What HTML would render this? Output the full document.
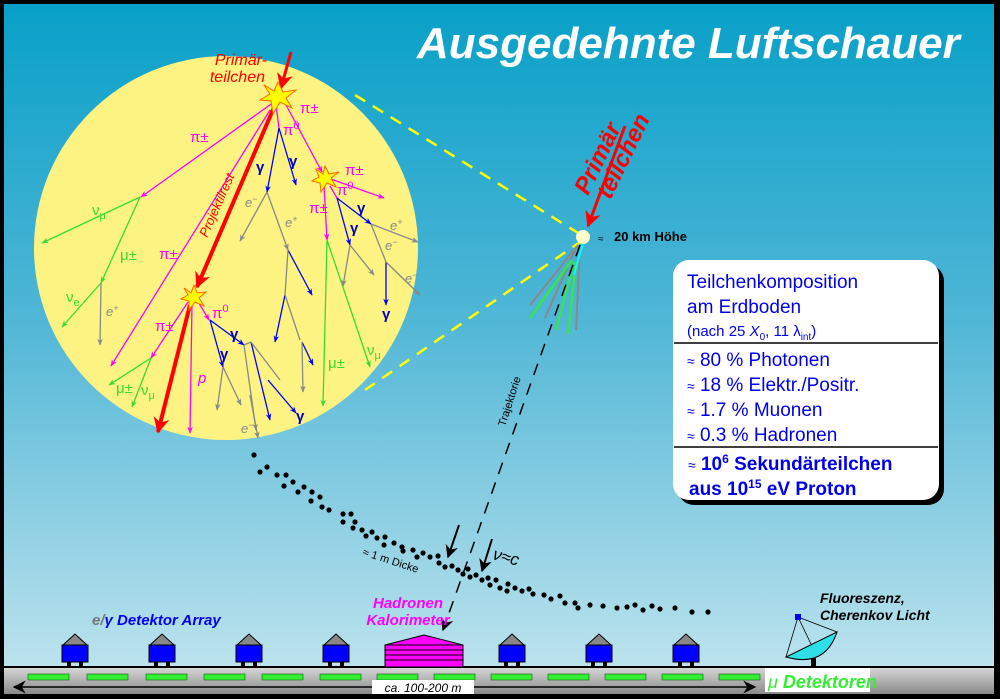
<!DOCTYPE html>
<html><head><meta charset="utf-8"><style>
html,body{margin:0;padding:0;background:#000}
svg{display:block}
text{font-family:"Liberation Sans",sans-serif}
</style></head><body>
<svg width="1000" height="699" viewBox="0 0 1000 699" xmlns="http://www.w3.org/2000/svg">
<defs>
<linearGradient id="sky" x1="0" y1="0" x2="0" y2="1">
<stop offset="0" stop-color="#08a0c8"/><stop offset="0.45" stop-color="#4fb6d6"/><stop offset="1" stop-color="#c4e6ef"/>
</linearGradient>
<linearGradient id="gnd" x1="0" y1="0" x2="0" y2="1">
<stop offset="0" stop-color="#d8d8d8"/><stop offset="1" stop-color="#8a8a8a"/>
</linearGradient>
<marker id="a" viewBox="0 0 10 10" refX="9" refY="5" markerWidth="7" markerHeight="7" orient="auto-start-reverse" markerUnits="userSpaceOnUse"><path d="M0,1 L10,5 L0,9 L3,5z" fill="context-stroke"/></marker>
<marker id="ar" viewBox="0 0 10 10" refX="9" refY="5" markerWidth="16" markerHeight="16" orient="auto" markerUnits="userSpaceOnUse"><path d="M0,0 L10,5 L0,10 L3,5z" fill="#f00"/></marker>
<marker id="ak" viewBox="0 0 10 10" refX="9" refY="5" markerWidth="13" markerHeight="13" orient="auto-start-reverse" markerUnits="userSpaceOnUse"><path d="M0,0 L10,5 L0,10 L3,5z" fill="#000"/></marker>
</defs>
<rect x="0" y="0" width="1000" height="699" fill="#000"/>
<rect x="4" y="4" width="990" height="690" fill="url(#sky)"/>
<text x="417" y="58" font-size="44" font-weight="bold" font-style="italic" fill="#fff">Ausgedehnte Luftschauer</text>

<line x1="355" y1="95" x2="583" y2="236" stroke="#ff0" stroke-width="2.5" stroke-dasharray="12,9"/>
<line x1="365" y1="390" x2="583" y2="240" stroke="#ff0" stroke-width="2.5" stroke-dasharray="12,9"/>

<circle cx="226" cy="248" r="192" fill="#fdf382"/>

<g fill="none" stroke-width="1.3">
<g stroke="#f0f">
<line x1="274" y1="102" x2="141" y2="197" marker-end="url(#a)"/>
<line x1="285" y1="103" x2="322" y2="172" marker-end="url(#a)"/>
<line x1="270" y1="110" x2="111" y2="366" marker-end="url(#a)"/>
<line x1="328" y1="178" x2="384" y2="198" marker-end="url(#a)"/>
<line x1="324" y1="185" x2="327" y2="240" marker-end="url(#a)"/>
<line x1="188" y1="302" x2="151" y2="358" marker-end="url(#a)"/>
<line x1="192" y1="303" x2="190" y2="433" marker-end="url(#a)"/>
<line x1="197" y1="300" x2="209" y2="320" marker-end="url(#a)"/>
<line x1="276" y1="105" x2="279" y2="128"/>
<line x1="330" y1="186" x2="337" y2="198"/>
</g>
<g stroke="#3d3">
<line x1="140" y1="197" x2="42" y2="243" marker-end="url(#a)"/>
<line x1="140" y1="197" x2="101" y2="283" marker-end="url(#a)"/>
<line x1="101" y1="283" x2="62" y2="327" marker-end="url(#a)"/>
<line x1="327" y1="240" x2="323" y2="406" marker-end="url(#a)"/>
<line x1="327" y1="240" x2="370" y2="367" marker-end="url(#a)"/>
<line x1="151" y1="358" x2="109" y2="385" marker-end="url(#a)"/>
<line x1="151" y1="358" x2="132" y2="407" marker-end="url(#a)"/>
</g>
<g stroke="#00f">
<line x1="279" y1="128" x2="267" y2="192" marker-end="url(#a)"/>
<line x1="279" y1="128" x2="296" y2="185" marker-end="url(#a)"/>
<line x1="337" y1="198" x2="371" y2="224" marker-end="url(#a)"/>
<line x1="337" y1="198" x2="350" y2="245" marker-end="url(#a)"/>
<line x1="288" y1="250" x2="312" y2="295" marker-end="url(#a)"/>
<line x1="285" y1="295" x2="275" y2="342" marker-end="url(#a)"/>
<line x1="302" y1="342" x2="313" y2="365" marker-end="url(#a)"/>
<line x1="386" y1="262" x2="386" y2="305" marker-end="url(#a)"/>
<line x1="210" y1="320" x2="244" y2="345" marker-end="url(#a)"/>
<line x1="210" y1="320" x2="223" y2="367" marker-end="url(#a)"/>
<line x1="251" y1="342" x2="270" y2="420" marker-end="url(#a)"/>
<line x1="268" y1="380" x2="296" y2="413" marker-end="url(#a)"/>
</g>
<g stroke="#888">
<line x1="267" y1="192" x2="240" y2="241" marker-end="url(#a)"/>
<line x1="267" y1="192" x2="288" y2="250" marker-end="url(#a)"/>
<line x1="288" y1="250" x2="285" y2="295"/>
<line x1="285" y1="295" x2="300" y2="340"/>
<line x1="302" y1="342" x2="303" y2="392" marker-end="url(#a)"/>
<line x1="371" y1="224" x2="386" y2="262"/>
<line x1="371" y1="224" x2="418" y2="242" marker-end="url(#a)"/>
<line x1="386" y1="262" x2="420" y2="295" marker-end="url(#a)"/>
<line x1="350" y1="245" x2="343" y2="286" marker-end="url(#a)"/>
<line x1="350" y1="245" x2="374" y2="275" marker-end="url(#a)"/>
<line x1="101" y1="283" x2="100" y2="345" marker-end="url(#a)"/>
<line x1="244" y1="345" x2="251" y2="342"/>
<line x1="223" y1="367" x2="217" y2="410" marker-end="url(#a)"/>
<line x1="223" y1="367" x2="241" y2="405" marker-end="url(#a)"/>
<line x1="244" y1="345" x2="256" y2="430" marker-end="url(#a)"/>
<line x1="251" y1="342" x2="280" y2="380"/>
<line x1="250" y1="395" x2="258" y2="438" marker-end="url(#a)"/>
</g>
</g>
<line x1="291" y1="52" x2="281" y2="88" stroke="#f00" stroke-width="3" marker-end="url(#ar)"/>
<line x1="275" y1="105" x2="197" y2="287" stroke="#f00" stroke-width="4" marker-end="url(#ar)"/>
<line x1="190" y1="305" x2="158" y2="432" stroke="#f00" stroke-width="4" marker-end="url(#ar)"/>
<g fill="#ff0" stroke="#f60" stroke-width="1">
<path d="M278,82 L283,92 L296,90 L286,98 L292,108 L280,102 L273,114 L271,101 L260,100 L270,94 L264,85 L274,91z"/>
<path d="M325,166 L329,174 L339,172 L331,178 L336,187 L327,183 L321,192 L320,183 L312,181 L319,177 L316,169 L323,174z"/>
<path d="M194,285 L197,293 L206,292 L199,298 L204,306 L195,302 L189,310 L189,301 L181,299 L188,295 L184,288 L191,293z"/>
</g>
<g font-size="15" fill="#f0f">
<text x="190" y="142">π±</text><text x="300" y="113">π±</text><text x="283" y="135">π<tspan font-size="11" dy="-6">0</tspan></text>
<text x="345" y="175">π±</text><text x="337" y="195">π<tspan font-size="11" dy="-6">0</tspan></text><text x="309" y="213">π±</text>
<text x="159" y="259">π±</text><text x="155" y="331">π±</text><text x="212" y="318">π<tspan font-size="11" dy="-6">0</tspan></text>
<text x="198" y="383" font-style="italic">p</text>
</g>
<g font-size="15" fill="#3d3">
<text x="92" y="215">ν<tspan font-size="11" dy="4">μ</tspan></text><text x="120" y="260">μ±</text>
<text x="66" y="302">ν<tspan font-size="11" dy="4">e</tspan></text><text x="116" y="393">μ±</text><text x="141" y="395">ν<tspan font-size="11" dy="4">μ</tspan></text>
<text x="328" y="368">μ±</text><text x="367" y="355">ν<tspan font-size="11" dy="4">μ</tspan></text>
</g>
<g font-size="15" fill="#00c" font-weight="bold">
<text x="256" y="172">γ</text><text x="289" y="166">γ</text><text x="357" y="213">γ</text><text x="350" y="233">γ</text>
<text x="382" y="319">γ</text><text x="230" y="339">γ</text><text x="220" y="359">γ</text><text x="296" y="421">γ</text>
</g>
<g font-size="13" fill="#888" font-style="italic">
<text x="245" y="207">e<tspan font-size="9" dy="-5">−</tspan></text><text x="285" y="227">e<tspan font-size="9" dy="-5">+</tspan></text>
<text x="106" y="316">e<tspan font-size="9" dy="-5">+</tspan></text><text x="390" y="230">e<tspan font-size="9" dy="-5">+</tspan></text>
<text x="385" y="250">e<tspan font-size="9" dy="-5">−</tspan></text><text x="405" y="283">e<tspan font-size="9" dy="-5">−</tspan></text>
<text x="241" y="433">e<tspan font-size="9" dy="-5">−</tspan></text>
</g>
<text x="267" y="65" font-size="16" font-style="italic" fill="#f00" text-anchor="end">Primär-</text>
<text x="265" y="82" font-size="16" font-style="italic" fill="#f00" text-anchor="end">teilchen</text>
<text transform="translate(207,238) rotate(-66)" font-size="13" font-style="italic" fill="#f00">Projektilrest</text>

<g stroke-width="2">
<line x1="578" y1="245" x2="530" y2="305" stroke="#888"/>
<line x1="576" y1="248" x2="545" y2="318" stroke="#888"/>
<line x1="580" y1="248" x2="576" y2="330" stroke="#888"/>
<line x1="572" y1="260" x2="530" y2="318" stroke="#3e3"/>
<line x1="574" y1="262" x2="556" y2="330" stroke="#3e3"/>
<line x1="576" y1="262" x2="568" y2="334" stroke="#3e3"/>
<line x1="583" y1="243" x2="574" y2="275" stroke="#0ff"/>
</g>
<line x1="580" y1="245" x2="443" y2="630" stroke="#000" stroke-width="1.5" stroke-dasharray="12,9" marker-end="url(#ak)"/>
<circle cx="583" cy="237" r="7" fill="#ffffcc"/>
<line x1="625" y1="126" x2="588" y2="226" stroke="#f00" stroke-width="3" marker-end="url(#ar)"/>
<g transform="translate(588,196) rotate(-64)" font-size="24" font-weight="bold" font-style="italic" fill="#f00"><text x="0" y="0">Primär</text><text x="6" y="22">teilchen</text></g>
<text x="598" y="242" font-size="10" fill="#000">≈</text>
<text x="614" y="241" font-size="13" font-weight="bold" fill="#000">20 km Höhe</text>
<text transform="translate(505,427) rotate(-72)" font-size="11" fill="#000">Trajektorie</text>

<rect x="678" y="265" width="266" height="240" rx="16" fill="#000"/>
<rect x="673" y="260" width="266" height="240" rx="16" fill="#fff"/>
<line x1="674" y1="343" x2="938" y2="343" stroke="#000" stroke-width="1.5"/>
<line x1="674" y1="447" x2="938" y2="447" stroke="#000" stroke-width="1.5"/>
<g fill="#00e" font-size="19">
<text x="687" y="288">Teilchenkomposition</text>
<text x="687" y="313">am Erdboden</text>
<text x="687" y="336" font-size="15">(nach 25 <tspan font-style="italic">X</tspan><tspan font-size="10" dy="4">0</tspan><tspan dy="-4">, 11 λ</tspan><tspan font-size="10" dy="4">int</tspan><tspan dy="-4">)</tspan></text>
<text x="687" y="366"><tspan font-size="14">≈</tspan> 80 % Photonen</text>
<text x="687" y="391"><tspan font-size="14">≈</tspan> 18 % Elektr./Positr.</text>
<text x="687" y="416"><tspan font-size="14">≈</tspan> 1.7 % Muonen</text>
<text x="687" y="441"><tspan font-size="14">≈</tspan> 0.3 % Hadronen</text>
<text x="688" y="470" font-weight="bold"><tspan font-size="14" font-weight="normal">≈</tspan> 10<tspan font-size="12" dy="-7">6</tspan><tspan dy="7"> Sekundärteilchen</tspan></text>
<text x="689" y="495" font-weight="bold">aus 10<tspan font-size="12" dy="-7">15</tspan><tspan dy="7"> eV Proton</tspan></text>
</g>

<g fill="#000">
<circle cx="254" cy="455" r="2.6"/><circle cx="260" cy="472" r="2.6"/><circle cx="267" cy="467" r="2.6"/><circle cx="277" cy="475" r="2.6"/><circle cx="286" cy="475" r="2.6"/>
<circle cx="284" cy="486" r="2.6"/><circle cx="293" cy="482" r="2.6"/><circle cx="298" cy="492" r="2.6"/><circle cx="304" cy="487" r="2.6"/><circle cx="312" cy="492" r="2.6"/>
<circle cx="311" cy="501" r="2.6"/><circle cx="320" cy="497" r="2.6"/><circle cx="322" cy="507" r="2.6"/><circle cx="329" cy="510" r="2.6"/><circle cx="343" cy="514" r="2.6"/>
<circle cx="351" cy="514" r="2.6"/><circle cx="343" cy="522" r="2.6"/><circle cx="355" cy="522" r="2.6"/><circle cx="353" cy="528" r="2.6"/><circle cx="362" cy="530" r="2.6"/>
<circle cx="372" cy="532" r="2.6"/><circle cx="366" cy="536" r="2.6"/><circle cx="377" cy="538" r="2.6"/><circle cx="385" cy="537" r="2.6"/><circle cx="384" cy="545" r="2.6"/>
<circle cx="394" cy="543" r="2.6"/><circle cx="402" cy="547" r="2.6"/><circle cx="403" cy="551" r="2.6"/><circle cx="413" cy="550" r="2.6"/><circle cx="417" cy="557" r="2.6"/>
<circle cx="423" cy="553" r="2.6"/><circle cx="430" cy="557" r="2.6"/><circle cx="438" cy="556" r="2.6"/><circle cx="439" cy="563" r="2.6"/><circle cx="445" cy="567" r="2.6"/>
<circle cx="452" cy="566" r="2.6"/><circle cx="458" cy="570" r="2.6"/><circle cx="463" cy="574" r="2.6"/><circle cx="468" cy="569" r="2.6"/><circle cx="470" cy="577" r="2.6"/>
<circle cx="476" cy="575" r="2.6"/><circle cx="482" cy="580" r="2.6"/><circle cx="488" cy="578" r="2.6"/><circle cx="490" cy="585" r="2.6"/><circle cx="496" cy="580" r="2.6"/>
<circle cx="500" cy="588" r="2.6"/><circle cx="508" cy="584" r="2.6"/><circle cx="507" cy="591" r="2.6"/><circle cx="515" cy="588" r="2.6"/><circle cx="522" cy="591" r="2.6"/>
<circle cx="529" cy="589" r="2.6"/><circle cx="533" cy="594" r="2.6"/><circle cx="544" cy="595" r="2.6"/><circle cx="551" cy="599" r="2.6"/><circle cx="560" cy="596" r="2.6"/>
<circle cx="565" cy="603" r="2.6"/><circle cx="575" cy="603" r="2.6"/><circle cx="578" cy="608" r="2.6"/><circle cx="590" cy="605" r="2.6"/><circle cx="603" cy="606" r="2.6"/>
<circle cx="617" cy="608" r="2.6"/><circle cx="627" cy="607" r="2.6"/><circle cx="635" cy="605" r="2.6"/><circle cx="643" cy="610" r="2.6"/><circle cx="652" cy="606" r="2.6"/>
<circle cx="660" cy="609" r="2.6"/><circle cx="675" cy="608" r="2.6"/><circle cx="692" cy="612" r="2.6"/><circle cx="708" cy="612" r="2.6"/>
</g>
<line x1="459" y1="525" x2="448" y2="557" stroke="#000" stroke-width="2" marker-end="url(#ak)"/>
<line x1="492" y1="539" x2="482" y2="571" stroke="#000" stroke-width="2" marker-end="url(#ak)"/>
<text x="492" y="559" font-size="17" font-style="italic" font-family="Liberation Serif" fill="#000" transform="rotate(15,492,559)">ν≈c</text>
<text transform="translate(362,555) rotate(18)" font-size="11" fill="#000">≈ 1 m  Dicke</text>

<rect x="4" y="667" width="990" height="27" fill="url(#gnd)"/>
<line x1="4" y1="667" x2="994" y2="667" stroke="#000" stroke-width="2"/>
<g fill="#3e3" stroke="#040" stroke-width="0.5">
<rect x="28" y="674" width="41" height="6"/><rect x="87" y="674" width="41" height="6"/><rect x="146" y="674" width="41" height="6"/><rect x="204" y="674" width="41" height="6"/><rect x="262" y="674" width="41" height="6"/><rect x="320" y="674" width="41" height="6"/><rect x="377" y="674" width="41" height="6"/><rect x="434" y="674" width="41" height="6"/><rect x="491" y="674" width="41" height="6"/><rect x="548" y="674" width="41" height="6"/><rect x="605" y="674" width="41" height="6"/><rect x="662" y="674" width="41" height="6"/><rect x="719" y="674" width="41" height="6"/>
</g>
<line x1="14" y1="687" x2="755" y2="687" stroke="#000" stroke-width="1.5" marker-start="url(#ak)" marker-end="url(#ak)"/>
<rect x="372" y="680" width="102" height="14" fill="#fff"/>
<text x="423" y="692" font-size="12" font-style="italic" fill="#000" text-anchor="middle">ca. 100-200 m</text>
<rect x="765" y="668" width="105" height="24" fill="#fff"/>
<text x="768" y="688" font-size="18" font-weight="bold" font-style="italic" fill="#3e3"><tspan font-weight="normal">μ</tspan> Detektoren</text>

<g id="det">
<path d="M63,645 L75,634 L87,645z" fill="#888" stroke="#000" stroke-width="1"/>
<rect x="62" y="645" width="26" height="17" fill="#00f" stroke="#000" stroke-width="1"/>
<rect x="67" y="662" width="4" height="6" fill="#000"/><rect x="79" y="662" width="4" height="6" fill="#000"/>
</g>
<use href="#det" x="87"/><use href="#det" x="174"/><use href="#det" x="261"/><use href="#det" x="437"/><use href="#det" x="524"/><use href="#det" x="611"/>
<path d="M385,645 L424,635 L463,645 L463,667 L385,667z" fill="#f0f" stroke="#000" stroke-width="1"/>
<g stroke="#000" stroke-width="1"><line x1="385" y1="650" x2="463" y2="650"/><line x1="385" y1="655" x2="463" y2="655"/><line x1="385" y1="660" x2="463" y2="660"/><line x1="385" y1="645" x2="463" y2="645"/></g>
<text x="408" y="608" font-size="15" font-weight="bold" font-style="italic" fill="#f0f" text-anchor="middle">Hadronen</text>
<text x="408" y="625" font-size="15" font-weight="bold" font-style="italic" fill="#f0f" text-anchor="middle">Kalorimeter</text>
<text x="92" y="625" font-size="15" font-weight="bold" font-style="italic" fill="#00e"><tspan fill="#777">e/</tspan>γ Detektor Array</text>

<rect x="811" y="656" width="5" height="11" fill="#000"/>
<path d="M786,657 Q825,668 837,632 z" fill="#2de0e8" stroke="#000" stroke-width="1"/>
<g stroke="#000" stroke-width="0.8"><line x1="798" y1="617" x2="786" y2="657"/><line x1="798" y1="617" x2="837" y2="632"/><line x1="798" y1="617" x2="811" y2="644"/></g>
<rect x="795" y="614" width="6" height="6" fill="#00f"/>
<text x="820" y="603" font-size="14" font-weight="bold" font-style="italic" fill="#000">Fluoreszenz,</text>
<text x="820" y="620" font-size="14" font-weight="bold" font-style="italic" fill="#000">Cherenkov Licht</text>
</svg>
</body></html>
